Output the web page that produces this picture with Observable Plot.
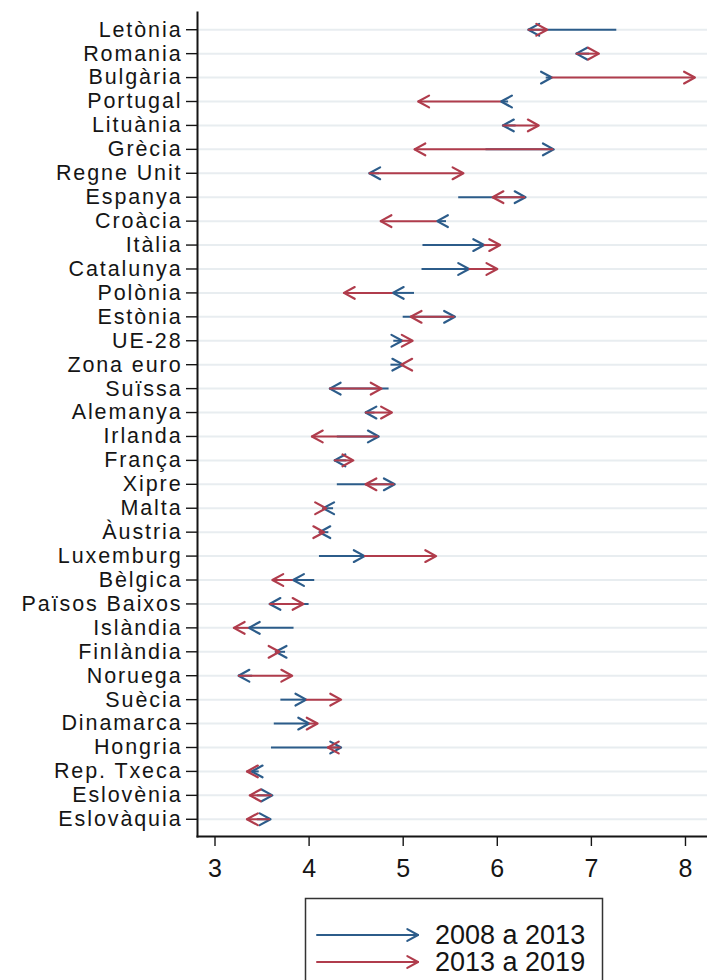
<!DOCTYPE html>
<html><head><meta charset="utf-8">
<script src="https://cdn.jsdelivr.net/npm/d3@7"></script>
<script src="https://cdn.jsdelivr.net/npm/@observablehq/plot@0.6"></script>
<style>
body{margin:0;background:#fff;font-family:"Liberation Sans",Arial,sans-serif}
#legend{line-height:0}
#chart g[aria-label="y-axis tick label"] text{letter-spacing:1.9px}
</style>
</head><body><div id="chart"></div><div id="legend"></div>
<script>
const countries = ["Letònia","Romania","Bulgària","Portugal","Lituània","Grècia","Regne Unit","Espanya","Croàcia","Itàlia","Catalunya","Polònia","Estònia","UE-28","Zona euro","Suïssa","Alemanya","Irlanda","França","Xipre","Malta","Àustria","Luxemburg","Bèlgica","Països Baixos","Islàndia","Finlàndia","Noruega","Suècia","Dinamarca","Hongria","Rep. Txeca","Eslovènia","Eslovàquia"];
const v2008 = [7.27,6.98,6.52,6.12,6.20,5.88,4.75,5.59,5.46,5.21,5.20,5.12,5.00,4.90,4.87,4.85,4.70,4.30,4.40,4.30,4.26,4.21,4.11,4.06,4.00,3.84,3.75,3.40,3.70,3.63,3.60,3.47,3.45,3.45];
const v2013 = [6.33,6.84,6.58,6.04,6.06,6.60,4.64,6.30,5.36,5.86,5.70,4.89,5.55,4.99,5.00,4.22,4.60,4.74,4.27,4.91,4.15,4.11,4.59,3.83,3.58,3.36,3.645,3.25,3.97,4.00,4.34,3.39,3.61,3.59];
const v2019 = [6.53,7.08,8.10,5.16,6.44,5.12,5.64,5.95,4.76,6.03,6.00,4.37,5.08,5.10,4.98,4.77,4.88,4.03,4.47,4.60,4.18,4.16,5.35,3.61,3.94,3.20,3.685,3.82,4.34,4.09,4.20,3.34,3.37,3.34];
const seriesNames = ["2008 a 2013", "2013 a 2019"];
const seriesColors = ["#2c5c8a", "#b03c4c"];
const xTicks = [3, 4, 5, 6, 7, 8];

const segs = [];
countries.forEach((c, i) => {
  segs.push({country: c, from: v2008[i], to: v2013[i], series: seriesNames[0]});
  segs.push({country: c, from: v2013[i], to: v2019[i], series: seriesNames[1]});
});

const chevron = {
  draw(ctx, size) {
    const r = Math.sqrt(size / Math.PI);
    const L = r * 1.8, W = r * 0.98;
    ctx.moveTo(-L, -W); ctx.lineTo(0, 0); ctx.lineTo(-L, W);
  }
};

function seriesMarks(name) {
  const data = segs.filter(d => d.series === name);
  return [
    Plot.ruleY(data, {y: "country", x1: "from", x2: "to", stroke: "series", strokeWidth: 2}),
    Plot.dot(data, {x: "to", y: "country", symbol: chevron, r: 6, fill: "none", stroke: "series",
      strokeWidth: 2.2, strokeLinecap: "round", strokeLinejoin: "round",
      rotate: d => (d.to >= d.from ? 0 : 180)})
  ];
}

const plot = Plot.plot({
  width: 707, height: 886,
  marginLeft: 197, marginRight: 0, marginTop: 12, marginBottom: 50,
  style: {fontFamily: '"Liberation Sans", Arial, sans-serif', color: "#151515", background: "#fff"},
  x: {domain: [2.814, 8.234]},
  y: {type: "point", domain: countries, padding: 0.72},
  color: {domain: seriesNames, range: seriesColors},
  marks: [
    Plot.ruleY(countries, {stroke: "#e8edf0", strokeWidth: 2}),
    Plot.axisY({tickSize: 11, tickPadding: 4, fontSize: 21.5, label: null, strokeWidth: 1.4}),
    Plot.axisX({ticks: xTicks, tickFormat: d3.format("d"), tickSize: 10, tickPadding: 13, fontSize: 25, label: null, strokeWidth: 1.4}),
    Plot.frame({anchor: "left", strokeWidth: 2}),
    Plot.frame({anchor: "bottom", strokeWidth: 2}),
    ...seriesMarks(seriesNames[0]),
    ...seriesMarks(seriesNames[1])
  ]
});
document.getElementById("chart").appendChild(plot);

const leg = d3.select("#legend").append("svg").attr("width", 707).attr("height", 94)
  .style("font-family", '"Liberation Sans", Arial, sans-serif');
leg.append("rect").attr("x", 305.5).attr("y", 12.5).attr("width", 297).attr("height", 120)
  .attr("fill", "none").attr("stroke", "#333").attr("stroke-width", 1.5);
seriesNames.forEach((name, i) => {
  const y = 49 + i * 27;
  const g = leg.append("g").attr("stroke", seriesColors[i]).attr("stroke-width", 2).attr("fill", "none")
    .attr("stroke-linecap", "round").attr("stroke-linejoin", "round");
  g.append("line").attr("x1", 317).attr("x2", 418).attr("y1", y).attr("y2", y);
  g.append("path").attr("d", `M${418 - 10.7},${y - 5.9}L418,${y}L${418 - 10.7},${y + 5.9}`);
  leg.append("text").attr("x", 435).attr("y", y + 9).attr("font-size", 27).attr("fill", "#151515").text(name);
});
</script></body></html>
